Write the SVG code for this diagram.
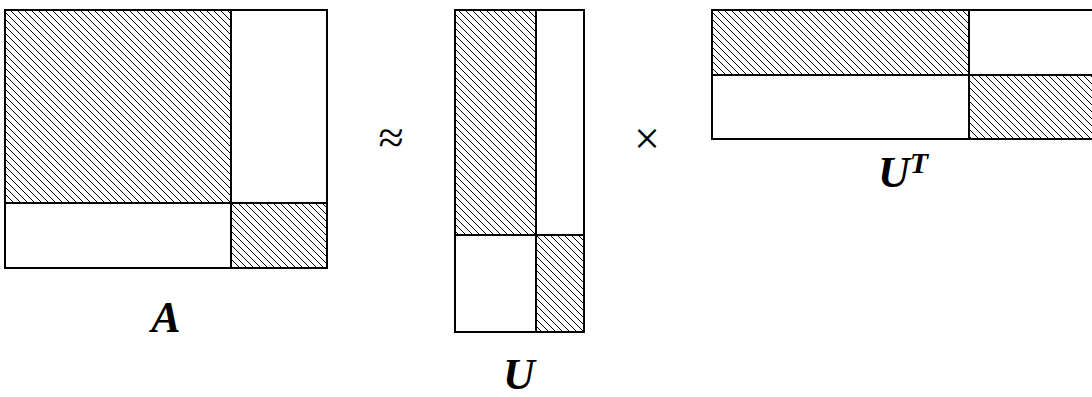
<svg xmlns="http://www.w3.org/2000/svg" width="1092" height="397" viewBox="0 0 1092 397">
  <style>
    .box { fill: none; stroke: #000; stroke-width: 2; }
    .hatch { fill: url(#hatch); stroke: #000; stroke-width: 2; }
    .plain { fill: #fff; stroke: #000; stroke-width: 2; }
    .lbl { font-family: "Liberation Serif", "DejaVu Serif", serif; font-weight: bold; font-style: italic; font-size: 44px; fill: #000; }
    .op { font-family: "Liberation Serif", "DejaVu Serif", serif; font-size: 46px; fill: #000; }
  </style>
  <defs>
    <pattern id="hatch" patternUnits="userSpaceOnUse" width="7" height="7">
      <path d="M0,0 L7,7 M-1,6 L1,8 M6,-1 L8,1" stroke="#000" stroke-width="1"/>
    </pattern>
  </defs>
  <rect width="1092" height="397" fill="#fff"/>

  <g id="matrix-A">
    <rect class="hatch" x="5" y="10" width="226" height="193"/>
    <rect class="plain" x="231" y="10" width="96" height="193"/>
    <rect class="plain" x="5" y="203" width="226" height="65"/>
    <rect class="hatch" x="231" y="203" width="96" height="65"/>
    <rect class="box" x="5" y="10" width="322" height="258"/>
    <text class="lbl" x="166" y="332" text-anchor="middle">A</text>
  </g>

  <g id="approx">
    <text class="op" x="391" y="153" text-anchor="middle" font-size="58px">≈</text>
  </g>

  <g id="matrix-U">
    <rect class="hatch" x="455" y="10" width="81" height="225"/>
    <rect class="plain" x="536" y="10" width="48" height="225"/>
    <rect class="plain" x="455" y="235" width="81" height="97"/>
    <rect class="hatch" x="536" y="235" width="48" height="97"/>
    <rect class="box" x="455" y="10" width="129" height="322"/>
    <text class="lbl" x="519" y="389" text-anchor="middle">U</text>
  </g>

  <g id="times">
    <text class="op" x="647" y="154" text-anchor="middle">×</text>
  </g>

  <g id="matrix-UT">
    <rect class="hatch" x="712" y="10" width="257" height="65"/>
    <rect class="plain" x="969" y="10" width="131" height="65"/>
    <rect class="plain" x="712" y="75" width="257" height="64"/>
    <rect class="hatch" x="969" y="75" width="131" height="64"/>
    <rect class="box" x="712" y="10" width="388" height="129"/>
    <text class="lbl" x="903" y="187" text-anchor="middle">U<tspan font-size="30px" dy="-14">T</tspan></text>
  </g>

  <g id="connectors"></g>
</svg>
